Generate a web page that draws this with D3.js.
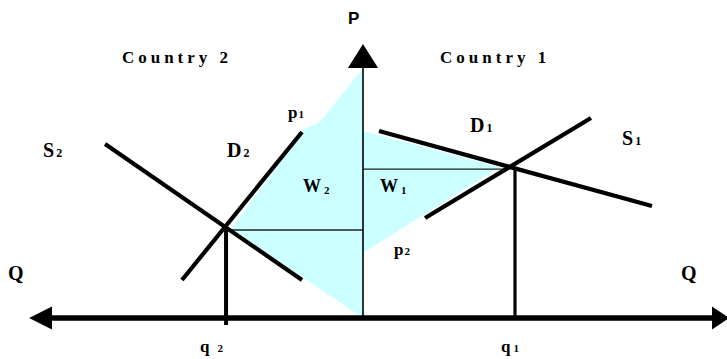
<!DOCTYPE html>
<html><head><meta charset="utf-8">
<script src="https://cdn.jsdelivr.net/npm/d3@7"></script>
<style>body{margin:0;background:#fff}svg{display:block}</style>
</head><body><svg id="c" width="727" height="359"></svg>
<script>
// Diagram data in model units: Q (negative = Country 2 side), P (price)
const supply2 = [[-16.97, 11.45], [-4.01, 2.5]];
const demand2 = [[-4.01, 12.24], [-11.91, 2.5]];
const demand1 = [[1.05, 12.30], [19.01, 7.37]];
const supply1 = [[4.08, 6.58], [15.0, 13.16]];
const q2Drop = [[-9.01, 5.92], [-9.01, -0.46]];
const q1Drop = [[10, 9.93], [10, 0]];
const price2Level = [[-8.68, 5.79], [0, 5.79]];
const price1Level = [[0, 9.8], [9.34, 9.8]];
const welfare2 = [[0, 16.45], [-2.83, 12.89], [-3.82, 12.43], [-8.68, 5.86], [0, 0]];
const welfare1 = [[0, 12.30], [9.01, 9.93], [0, 4.28]];
const pAxis = [[0, 0], [0, 16.45]];
const qAxis = [[-21.0, 0], [23.5, 0]];
const arrowUp = [[0, 18.03], [-0.99, 16.45], [0.99, 16.45]];
const arrowLeft = [[-21.97, 0], [-20.46, 0.76], [-20.46, -0.76]];
const arrowRight = [[24.1, 0], [22.96, 0.76], [22.96, -0.76]];
// Labels: main text, subscript
const labelTexts = ["P", "Country 2", "Country 1", "S", "D", "p", "W", "W", "D", "S", "Q", "Q", "q", "q", "p"];
const labelSubs  = ["", "", "", "2", "2", "1", "2", "1", "1", "1", "", "", "2", "1", "2"];

// layout (anchors, model units) kept separate
const labelAnchors = [[-0.99, 19.34], [-15.86, 16.78], [5.07, 16.78], [-21.05, 10.6], [-8.95, 10.6],
  [-4.93, 13.16], [-3.95, 8.29], [1.12, 8.29], [7.04, 12.24], [17.04, 11.38], [-23.36, 2.5], [20.92, 2.5],
  [-10.72, -2.24], [9.08, -2.24], [2.04, 4.14]];

const svg = d3.select("#c");
const x = d3.scaleLinear().domain([0, 10]).range([363, 515]);
const y = d3.scaleLinear().domain([0, 10]).range([318, 166]);
const line = d3.line().x(d => x(d[0])).y(d => y(d[1]));
const poly = d => line(d) + "Z";

const cyan = "#ccffff";
svg.append("path").attr("d", poly(welfare2)).attr("fill", cyan);
svg.append("path").attr("d", poly(welfare1)).attr("fill", cyan);

// thin lines
[price2Level, price1Level].forEach(d =>
  svg.append("path").attr("d", line(d)).attr("stroke", "#222").attr("stroke-width", 1.3).attr("fill", "none"));
svg.append("path").attr("d", line(pAxis)).attr("stroke", "#000").attr("stroke-width", 1.6).attr("fill", "none");

// axes
svg.append("path").attr("d", line(qAxis)).attr("stroke", "#000").attr("stroke-width", 5.5).attr("fill", "none");
[arrowUp, arrowLeft, arrowRight].forEach(d => svg.append("path").attr("d", poly(d)).attr("fill", "#000"));

// curves
[supply2, demand2, demand1, supply1].forEach(d =>
  svg.append("path").attr("d", line(d)).attr("stroke", "#000").attr("stroke-width", 4.2).attr("fill", "none"));
svg.append("path").attr("d", line(q2Drop)).attr("stroke", "#000").attr("stroke-width", 4).attr("fill", "none");
svg.append("path").attr("d", line(q1Drop)).attr("stroke", "#000").attr("stroke-width", 3.2).attr("fill", "none");

// label styles
const serif = "Liberation Serif, Times New Roman, serif";
const styles = labelTexts.map((t, i) => {
  if (i === 0) return {fam: "Liberation Sans, Arial, sans-serif", size: 17, ls: 0, sub: 0, dx: 0};
  if (i === 1 || i === 2) return {fam: serif, size: 17, ls: 4, sub: 0, dx: 0};
  if (t === "W") return {fam: serif, size: 18, ls: 0, sub: 11, dx: 3, dy: 2};
  if (t === "q") return {fam: serif, size: 17, ls: 0, sub: 11, dx: i === 12 ? 8 : 3, dy: 0};
  if (t === "p") return {fam: serif, size: 17, ls: 0, sub: 11, dx: 1, dy: 0};
  if (t === "Q") return {fam: serif, size: 20, ls: 0, sub: 0, dx: 0};
  return {fam: serif, size: 20, ls: 0, sub: 12, dx: 2, dy: 0};
});

labelTexts.forEach((t, i) => {
  const s = styles[i];
  const a = labelAnchors[i];
  const txt = svg.append("text").attr("x", x(a[0])).attr("y", y(a[1]))
    .attr("font-family", s.fam).attr("font-weight", "bold").attr("font-size", s.size)
    .attr("letter-spacing", s.ls).attr("fill", "#000");
  txt.append("tspan").text(t);
  if (labelSubs[i]) {
    txt.append("tspan").attr("dx", s.dx).attr("dy", s.dy || 0).attr("font-size", s.sub).text(labelSubs[i]);
  }
});
</script></body></html>
